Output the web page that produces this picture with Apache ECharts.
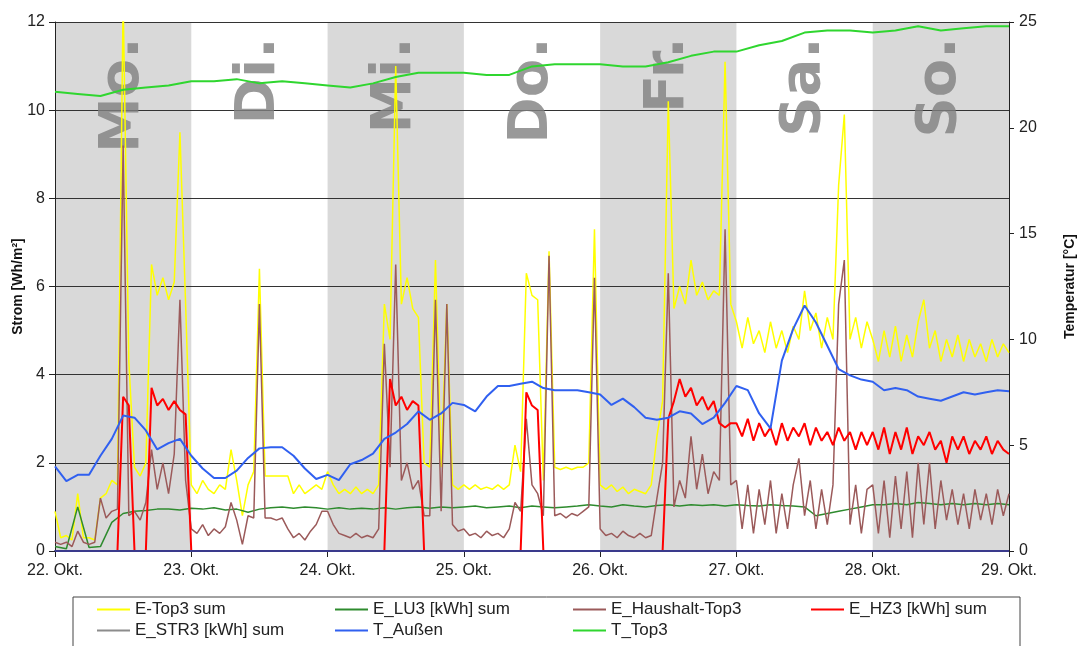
<!DOCTYPE html>
<html>
<head>
<meta charset="utf-8">
<script src="https://cdn.jsdelivr.net/npm/echarts@6/dist/echarts.min.js"></script>
<style>
    html, body { margin: 0; padding: 0; background: #fff; }
    #chartWrap { width: 1078px; height: 646px; }
</style>
</head>
<body>
<div id="chartWrap"></div>
<script>
// x-Achse: Stunden ab 22. Okt. 0:00, ein Tag = 24
var dateLabels = ['22. Okt.', '23. Okt.', '24. Okt.', '25. Okt.', '26. Okt.', '27. Okt.', '28. Okt.', '29. Okt.'];
var dayNames = ['Mo.', 'Di.', 'Mi.', 'Do.', 'Fr.', 'Sa.', 'So.'];

// stündlich (h 0 .. 168)
var eTop3 = [
    0.9, 0.3, 0.35, 0.25, 1.3, 0.3, 0.3, 0.25, 1.2, 1.3, 1.6, 1.5, 12.5, 4.3, 1.9, 1.7, 2.0, 6.5, 5.8, 6.2, 5.7, 6.1, 9.5, 5.6,
    1.5, 1.3, 1.6, 1.4, 1.3, 1.5, 1.4, 2.3, 1.6, 0.8, 1.5, 1.8, 6.4, 1.7, 1.7, 1.7, 1.7, 1.7, 1.3, 1.5, 1.3, 1.4, 1.5, 1.4,
    1.8, 1.5, 1.3, 1.4, 1.3, 1.45, 1.3, 1.4, 1.3, 1.5, 5.6, 4.8, 11.0, 5.6, 6.2, 5.5, 5.3, 2.0, 1.9, 6.6, 1.9, 5.6, 1.5, 1.4,
    1.5, 1.4, 1.5, 1.4, 1.45, 1.4, 1.5, 1.4, 1.5, 2.4, 1.8, 6.3, 5.8, 5.7, 1.6, 6.8, 1.9, 1.85, 1.9, 1.85, 1.9, 1.9, 2.0, 7.3,
    1.5, 1.4, 1.5, 1.35, 1.45, 1.3, 1.4, 1.35, 1.3, 1.5, 2.6, 3.4, 10.2, 5.5, 6.0, 5.6, 6.6, 5.8, 6.1, 5.7, 5.9, 5.8, 11.1, 5.6,
    5.2, 4.6, 5.3, 4.7, 5.0, 4.5, 5.2, 4.6, 5.0, 4.5, 5.1, 4.8, 5.9, 5.0, 5.4, 4.6, 5.3, 4.8, 8.3, 9.9, 4.8, 5.3, 4.6, 5.2,
    4.8, 4.3, 5.0, 4.4, 5.1, 4.3, 4.9, 4.4, 5.2, 5.7, 4.6, 5.0, 4.3, 4.8, 4.4, 4.9, 4.3, 4.8, 4.4, 4.7, 4.3, 4.8, 4.4, 4.7, 4.5
];
var eHaushalt = [
    0.2, 0.15, 0.2, 0.1, 0.45, 0.2, 0.15, 0.2, 1.2, 0.75, 0.9, 0.95, 9.2, 0.8, 0.9, 0.7, 1.1, 2.3, 1.4, 2.0, 1.3, 2.2, 5.7, 1.6,
    0.5, 0.4, 0.6, 0.35, 0.5, 0.4, 0.55, 1.1, 0.7, 0.15, 0.8, 0.75, 5.6, 0.75, 0.75, 0.7, 0.75, 0.5, 0.3, 0.4, 0.25, 0.45, 0.6, 0.9,
    0.9, 0.6, 0.4, 0.35, 0.3, 0.4, 0.3, 0.35, 0.3, 0.5, 4.7, 1.9, 6.5, 1.6, 2.0, 1.4, 1.6, 0.8, 0.8, 5.7, 0.9, 5.6, 0.6, 0.45,
    0.5, 0.35, 0.4, 0.3, 0.45, 0.35, 0.4, 0.3, 0.5, 1.1, 0.9, 3.0, 1.5, 1.3, 0.8, 6.7, 0.8, 0.85, 0.75, 0.85, 0.8, 0.9, 1.0, 6.2,
    0.5, 0.35, 0.4, 0.3, 0.45, 0.35, 0.3, 0.4, 0.3, 0.35, 1.2, 2.0, 6.3, 1.0, 1.6, 1.2, 2.6, 1.4, 2.2, 1.3, 1.8, 1.6, 7.3, 1.5,
    1.6, 0.5, 1.5, 0.4, 1.4, 0.6, 1.6, 0.4, 1.3, 0.5, 1.5, 2.1, 0.8, 1.6, 0.5, 1.4, 0.6, 1.5, 5.6, 6.6, 0.6, 1.5, 0.4, 1.4,
    1.5, 0.4, 1.6, 0.3, 1.7, 0.5, 1.8, 0.3, 2.0, 0.6, 2.0, 0.5, 1.6, 0.7, 1.4, 0.6, 1.3, 0.5, 1.4, 0.7, 1.3, 0.6, 1.4, 0.8, 1.3
];
var eHZ3 = [
    0, 0, 0, 0, 0, 0, 0, 0, 0, 0, 0, 0, 3.5, 3.3, 0, 0, 0, 3.7, 3.3, 3.45, 3.2, 3.4, 3.2, 3.1,
    0, 0, 0, 0, 0, 0, 0, 0, 0, 0, 0, 0, 0, 0, 0, 0, 0, 0, 0, 0, 0, 0, 0, 0,
    0, 0, 0, 0, 0, 0, 0, 0, 0, 0, 0, 3.9, 3.3, 3.5, 3.2, 3.4, 3.3, 0, 0, 0, 0, 0, 0, 0,
    0, 0, 0, 0, 0, 0, 0, 0, 0, 0, 0, 3.6, 3.3, 3.2, 0, 0, 0, 0, 0, 0, 0, 0, 0, 0,
    0, 0, 0, 0, 0, 0, 0, 0, 0, 0, 0, 0, 3.0, 3.4, 3.9, 3.5, 3.7, 3.3, 3.5, 3.2, 3.4, 2.9, 2.8, 2.9,
    2.9, 2.6, 3.0, 2.5, 2.9, 2.6, 2.8, 2.4, 2.9, 2.5, 2.8, 2.6, 2.9, 2.4, 2.8, 2.5, 2.7, 2.4, 2.8, 2.5, 2.7, 2.3, 2.7, 2.4,
    2.7, 2.3, 2.8, 2.2, 2.7, 2.3, 2.8, 2.2, 2.6, 2.4, 2.7, 2.3, 2.5, 2.0, 2.6, 2.3, 2.6, 2.2, 2.5, 2.3, 2.6, 2.2, 2.5, 2.3, 2.2
];

// alle 2 h
var eLU3 = [
    0.1, 0.05, 1.0, 0.08, 0.1, 0.65, 0.85, 0.9, 0.92, 0.95, 0.95, 0.93,
    0.97, 0.95, 0.98, 0.93, 0.95, 0.88, 0.95, 0.98, 1.0, 0.97, 1.0, 0.98,
    0.95, 0.98, 0.95, 0.97, 0.95, 0.98, 0.95, 0.98, 1.0, 0.97, 1.0, 0.98,
    1.0, 1.02, 0.98, 1.0, 1.02, 0.98, 1.02, 1.0, 0.98, 1.0, 1.02, 1.05,
    1.02, 1.0, 1.05, 1.02, 1.0, 1.03, 1.05, 1.02, 1.05, 1.03, 1.05, 1.02,
    1.05, 1.03, 1.02, 1.05, 1.03, 1.02, 1.0, 0.8, 0.85, 0.9, 0.95, 1.0,
    1.05, 1.05, 1.08, 1.05, 1.1, 1.08, 1.05, 1.08, 1.05, 1.08, 1.05, 1.08, 1.05
];
var tAussen = [
    4.0, 3.3, 3.6, 3.6, 4.5, 5.3, 6.4, 6.3, 5.7, 4.8, 5.1, 5.3,
    4.5, 3.9, 3.45, 3.45, 3.8, 4.4, 4.85, 4.9, 4.9, 4.5, 3.9, 3.4,
    3.6, 3.35, 4.1, 4.3, 4.6, 5.3, 5.6, 6.0, 6.6, 6.2, 6.5, 7.0,
    6.9, 6.6, 7.3, 7.8, 7.8, 7.9, 8.0, 7.7, 7.6, 7.6, 7.6, 7.5,
    7.4, 6.9, 7.2, 6.8, 6.3, 6.2, 6.3, 6.6, 6.5, 6.0, 6.3, 7.0,
    7.8, 7.6, 6.5, 5.8, 9.0, 10.5, 11.6, 10.8, 9.7, 8.6, 8.3, 8.1,
    8.0, 7.6, 7.7, 7.6, 7.3, 7.2, 7.1, 7.3, 7.5, 7.4, 7.5, 7.6, 7.55
];

// alle 4 h
var tTop3 = [
    21.7, 21.6, 21.5, 21.8, 21.9, 22.0,
    22.2, 22.2, 22.3, 22.1, 22.2, 22.1,
    22.0, 21.9, 22.1, 22.4, 22.6, 22.6,
    22.6, 22.5, 22.5, 22.9, 23.0, 23.0,
    23.0, 22.9, 22.9, 23.1, 23.4, 23.6,
    23.6, 23.9, 24.1, 24.5, 24.6, 24.6,
    24.5, 24.6, 24.8, 24.6, 24.7, 24.8, 24.8
];

// täglich
var eSTR3 = [0, 0, 0, 0, 0, 0, 0, 0];

var fontFamily = "'Liberation Sans', Arial, sans-serif";

// Werte -> [Stunde, Wert]
function pairs(values, step) {
    return values.map(function (v, i) { return [i * step, v]; });
}

function lineSeries(name, values, step, color, width, yIndex, z) {
    return {
        name: name,
        type: 'line',
        yAxisIndex: yIndex || 0,
        data: pairs(values, step),
        showSymbol: false,
        symbol: 'none',
        clip: true,
        z: z || 2,
        lineStyle: { color: color, width: width },
        itemStyle: { color: color }
    };
}

var myChart = echarts.init(document.getElementById('chartWrap'));

var legendText = { fontFamily: fontFamily, fontSize: 17, color: '#222', width: 170, lineHeight: 14 };

var option = {
    animation: false,
    backgroundColor: '#fff',
    grid: { left: 55, right: 69, top: 22, bottom: 95, containLabel: false, outerBoundsMode: 'none' },
    legend: [{
        data: ['E-Top3 sum', 'E_LU3 [kWh] sum', 'E_Haushalt-Top3', 'E_HZ3 [kWh] sum'],
        left: 73, top: 597,
        padding: [4, 1, 34, 24],
        icon: 'rect',
        itemGap: 30, itemWidth: 33, itemHeight: 2,
        borderColor: '#444', borderWidth: 1,
        textStyle: legendText
    }, {
        data: [
            { name: 'E_STR3 [kWh] sum', itemStyle: { color: '#8c8c8c' } },
            'T_Außen', 'T_Top3'
        ],
        left: 73, top: 618,
        padding: [4, 1, 4, 24],
        icon: 'rect',
        itemGap: 30, itemWidth: 33, itemHeight: 2,
        textStyle: legendText
    }],
    xAxis: {
        type: 'value', min: 0, max: 168, interval: 24,
        axisLine: { lineStyle: { color: '#3a3a8c', width: 2 } },
        axisTick: { show: true, length: 6, lineStyle: { color: '#222' } },
        axisLabel: {
            margin: 12, fontFamily: fontFamily, fontSize: 16, color: '#222',
            formatter: function (v) { return dateLabels[Math.round(v / 24)]; }
        },
        splitLine: { show: false },
        splitArea: { show: true, areaStyle: { color: ['#d9d9d9', 'rgba(255,255,255,0)'] } }
    },
    yAxis: [{
        type: 'value', min: 0, max: 12, interval: 2, z: 1,
        name: 'Strom [Wh/m²]', nameLocation: 'middle', nameGap: 30, nameRotate: 90,
        nameMoveOverlap: false,
        nameTextStyle: { fontFamily: fontFamily, fontSize: 14, fontWeight: 'bold', color: '#111' },
        axisLine: { show: true, lineStyle: { color: '#222' } },
        axisTick: { show: true, length: 6, lineStyle: { color: '#222' } },
        axisLabel: { margin: 10, fontFamily: fontFamily, fontSize: 16, color: '#222' },
        splitLine: { show: true, lineStyle: { color: '#333', width: 1 } }
    }, {
        type: 'value', min: 0, max: 25, interval: 5, position: 'right', z: 1,
        name: 'Temperatur [°C]', nameLocation: 'middle', nameGap: 54, nameRotate: 90,
        nameMoveOverlap: false,
        nameTextStyle: { fontFamily: fontFamily, fontSize: 14, fontWeight: 'bold', color: '#111' },
        axisLine: { show: true, lineStyle: { color: '#222' } },
        axisTick: { show: true, length: 5, lineStyle: { color: '#222' } },
        axisLabel: { margin: 10, fontFamily: fontFamily, fontSize: 16, color: '#222' },
        splitLine: { show: false }
    }],
    series: [
        // Wochentage als grosse Beschriftung hinter den Linien
        {
            type: 'scatter',
            silent: true,
            z: 1,
            symbolSize: 0,
            data: dayNames.map(function (n, i) { return [i * 24 + 12, 11.65]; }),
            label: {
                show: true,
                position: 'inside',
                rotate: 90,
                align: 'right',
                verticalAlign: 'middle',
                formatter: function (p) { return dayNames[p.dataIndex]; },
                fontFamily: "'DejaVu Sans', sans-serif",
                fontWeight: 'bold',
                fontSize: 56,
                color: '#808080'
            }
        },
        lineSeries('E-Top3 sum', eTop3, 1, '#ffff00', 1.5),
        lineSeries('E_LU3 [kWh] sum', eLU3, 2, '#2e8b2e', 1.5),
        lineSeries('E_Haushalt-Top3', eHaushalt, 1, '#9b5a5a', 1.5),
        lineSeries('E_HZ3 [kWh] sum', eHZ3, 1, '#ff0000', 2),
        lineSeries('E_STR3 [kWh] sum', eSTR3, 24, '#3a3a8c', 2, 0, 3),
        lineSeries('T_Außen', tAussen, 2, '#3060f0', 2, 1),
        lineSeries('T_Top3', tTop3, 4, '#2fd62f', 2, 1)
    ]
};

myChart.setOption(option);
</script>
</body>
</html>
